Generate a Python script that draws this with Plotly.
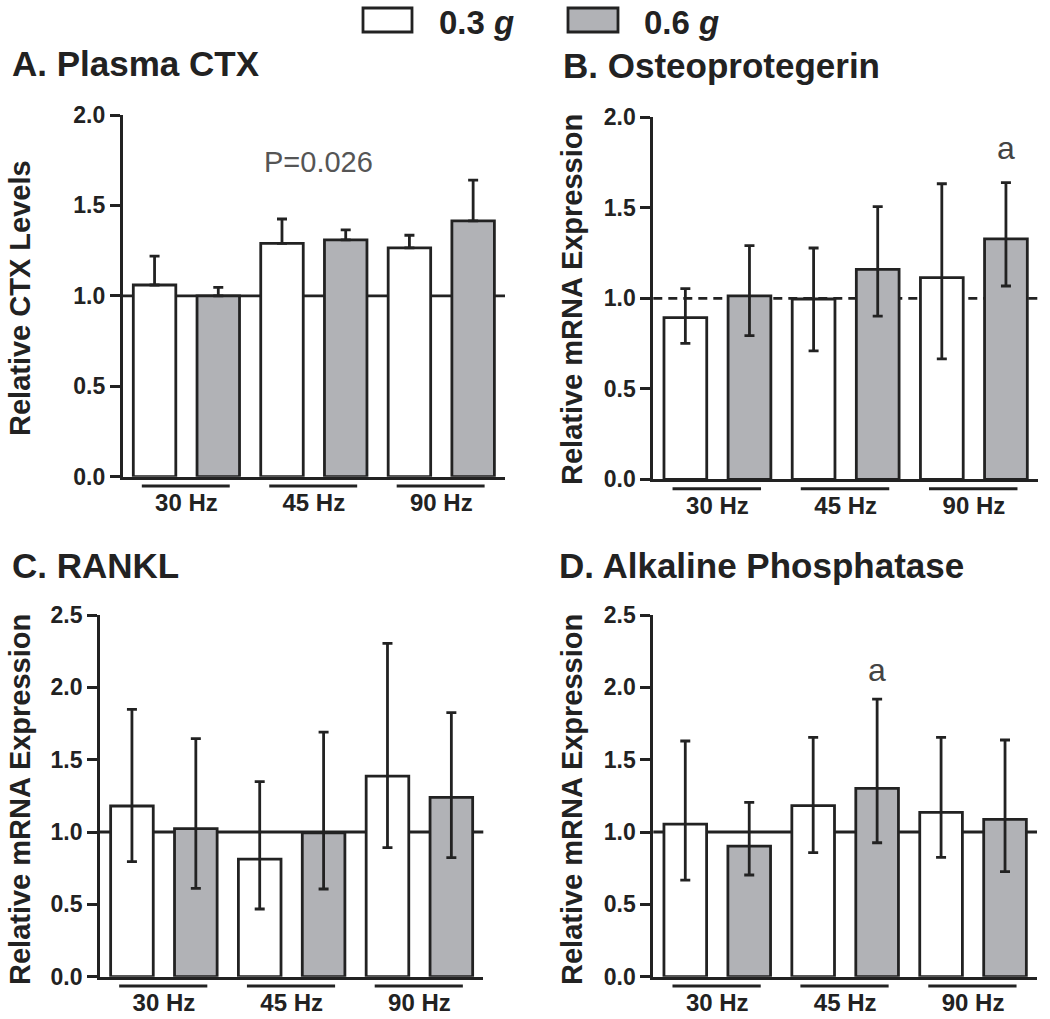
import plotly.graph_objects as go

# ---------------- data ----------------
groups = ["30 Hz", "45 Hz", "90 Hz"]
series = ["0.3", "0.6"]  # g

ctx_mean = [[1.06, 1.29, 1.265], [1.00, 1.31, 1.415]]
ctx_plus = [[0.16, 0.135, 0.07], [0.047, 0.055, 0.225]]
ctx_minus = [[0, 0, 0], [0, 0, 0]]

opg_mean = [[0.893, 0.996, 1.114], [1.013, 1.16, 1.328]]
opg_plus = [[0.16, 0.282, 0.519], [0.278, 0.346, 0.311]]
opg_minus = [[0.142, 0.287, 0.449], [0.219, 0.258, 0.26]]

rankl_mean = [[1.18, 0.813, 1.387], [1.023, 0.995, 1.24]]
rankl_plus = [[0.668, 0.535, 0.917], [0.622, 0.696, 0.585]]
rankl_minus = [[0.385, 0.345, 0.495], [0.412, 0.389, 0.417]]

alp_mean = [[1.055, 1.182, 1.136], [0.903, 1.302, 1.088]]
alp_plus = [[0.574, 0.472, 0.518], [0.302, 0.617, 0.548]]
alp_minus = [[0.387, 0.325, 0.311], [0.2, 0.376, 0.362]]

yticks_ab = [0.0, 0.5, 1.0, 1.5, 2.0]
yticks_cd = [0.0, 0.5, 1.0, 1.5, 2.0, 2.5]

# ---------------- styling ----------------
W, H = 1050, 1019
INK = "#222222"
FILLS = ["#ffffff", "#b1b2b6"]
FONT = "Liberation Sans, Arial, sans-serif"
LW = 2.8


def px(x):
    return x / W


def py(y):
    return (H - y) / H


panels = [
    dict(title="A. Plasma CTX", ytitle="Relative CTX Levels", mean=ctx_mean, plus=ctx_plus,
         minus=ctx_minus, yr=[0, 2.0], ticks=yticks_ab, dash="solid",
         dom_x=(122.7, 505), dom_y=(476.7, 115), title_xy=(10, 64), ytitle_xy=(20, 298)),
    dict(title="B. Osteoprotegerin", ytitle="Relative mRNA Expression", mean=opg_mean, plus=opg_plus,
         minus=opg_minus, yr=[0, 2.0], ticks=yticks_ab, dash="9px,6px",
         dom_x=(653.3, 1038), dom_y=(479.3, 117.3), title_xy=(561, 66), ytitle_xy=(572, 300)),
    dict(title="C. RANKL", ytitle="Relative mRNA Expression", mean=rankl_mean, plus=rankl_plus,
         minus=rankl_minus, yr=[0, 2.5], ticks=yticks_cd, dash="solid",
         dom_x=(100, 483.3), dom_y=(976.7, 615), title_xy=(10, 565), ytitle_xy=(20, 800)),
    dict(title="D. Alkaline Phosphatase", ytitle="Relative mRNA Expression", mean=alp_mean, plus=alp_plus,
         minus=alp_minus, yr=[0, 2.5], ticks=yticks_cd, dash="solid",
         dom_x=(653.3, 1037), dom_y=(976.7, 615), title_xy=(557, 565), ytitle_xy=(572, 800)),
]

fig = go.Figure()
shapes = []
annotations = []
layout_axes = {}

for p_i, p in enumerate(panels):
    n = p_i + 1
    xa = "x" if n == 1 else f"x{n}"
    ya = "y" if n == 1 else f"y{n}"
    for s_i, s in enumerate(series):
        xs = [2 * g + s_i for g in range(len(groups))]
        fig.add_trace(go.Bar(
            x=xs, y=p["mean"][s_i], width=0.667,
            marker=dict(color=FILLS[s_i], line=dict(color=INK, width=LW)),
            error_y=dict(type="data", symmetric=False, array=p["plus"][s_i],
                         arrayminus=p["minus"][s_i], color=INK, thickness=LW, width=5),
            xaxis=xa, yaxis=ya, showlegend=False, name=f"{s} g",
        ))
    layout_axes["xaxis" if n == 1 else f"xaxis{n}"] = dict(
        domain=[px(p["dom_x"][0]), px(p["dom_x"][1])], anchor=ya,
        range=[-0.5, 5.5], showline=True, linecolor=INK, linewidth=LW,
        showgrid=False, zeroline=False, ticks="",
        tickvals=[2 * g + 0.5 for g in range(len(groups))], ticktext=groups,
        tickfont=dict(family=FONT, size=24, color=INK, weight="bold"),
        ticklabelstandoff=3, fixedrange=True, automargin=False,
    )
    layout_axes["yaxis" if n == 1 else f"yaxis{n}"] = dict(
        domain=[py(p["dom_y"][0]), py(p["dom_y"][1])], anchor=xa,
        range=p["yr"], showline=True, linecolor=INK, linewidth=LW,
        showgrid=False, zeroline=False, ticks="outside", ticklen=10, tickwidth=LW,
        tickcolor=INK, tickvals=p["ticks"], tickformat=".1f",
        tickfont=dict(family=FONT, size=23, color=INK, weight="bold"),
        fixedrange=True, automargin=False,
    )
    # reference line at 1.0
    shapes.append(dict(type="line", xref=f"{xa} domain", yref=ya, x0=0, x1=1, y0=1, y1=1,
                       line=dict(color=INK, width=LW, dash=p["dash"]), layer="below"))
    # group underlines
    for g in range(len(groups)):
        shapes.append(dict(type="line", xref=xa, yref=f"{ya} domain",
                           x0=2 * g - 0.2, x1=2 * g + 1.18, y0=-0.026, y1=-0.026,
                           line=dict(color=INK, width=3)))
    annotations.append(dict(text=p["title"], x=px(p["title_xy"][0]), y=py(p["title_xy"][1]),
                            xref="paper", yref="paper", xanchor="left", yanchor="middle",
                            showarrow=False, font=dict(family=FONT, size=35, color=INK, weight="bold")))
    annotations.append(dict(text=p["ytitle"], x=px(p["ytitle_xy"][0]), y=py(p["ytitle_xy"][1]),
                            xref="paper", yref="paper", xanchor="center", yanchor="middle",
                            textangle=-90, showarrow=False,
                            font=dict(family=FONT, size=29, color=INK, weight="bold")))

# significance / p-value annotations
annotations.append(dict(text="P=0.026", x=2.58, y=1.74, xref="x", yref="y", showarrow=False,
                        font=dict(family=FONT, size=29, color="#555555")))
annotations.append(dict(text="a", x=5, y=1.83, xref="x2", yref="y2", showarrow=False,
                        font=dict(family=FONT, size=32, color="#444444")))
annotations.append(dict(text="a", x=3, y=2.12, xref="x4", yref="y4", showarrow=False,
                        font=dict(family=FONT, size=32, color="#444444")))

# legend (drawn manually)
leg_boxes = [(363, 412), (568, 618)]
leg_text_x = [437, 642]
for s_i, s in enumerate(series):
    x0, x1 = leg_boxes[s_i]
    shapes.append(dict(type="rect", xref="paper", yref="paper", x0=px(x0), x1=px(x1),
                       y0=py(32), y1=py(8), fillcolor=FILLS[s_i], line=dict(color=INK, width=LW)))
    annotations.append(dict(text=f"{s} <i>g</i>", x=px(leg_text_x[s_i]), y=py(22),
                            xref="paper", yref="paper", xanchor="left", yanchor="middle",
                            showarrow=False, font=dict(family=FONT, size=33, color=INK, weight="bold")))

fig.update_layout(
    width=W, height=H, margin=dict(l=0, r=0, t=0, b=0, pad=0),
    paper_bgcolor="white", plot_bgcolor="white",
    barmode="overlay", showlegend=False,
    shapes=shapes, annotations=annotations, **layout_axes,
)

fig.write_html("out.html", config={"displayModeBar": False},
               post_script="document.body.style.margin='0';")
